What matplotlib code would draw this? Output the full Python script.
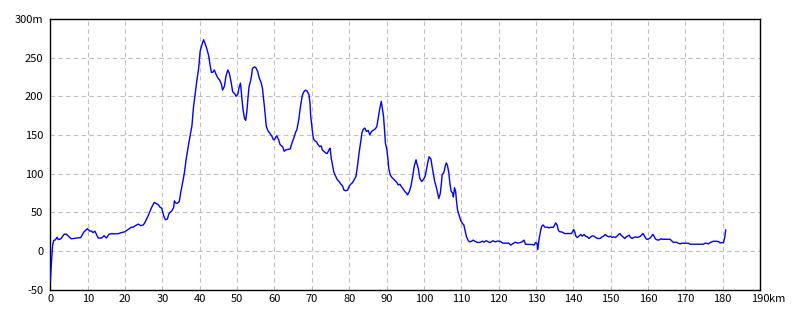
import matplotlib
matplotlib.use("Agg")
import matplotlib.pyplot as plt

# Distance along route (km) and elevation (m)
distance_km = [
    0.0, 0.15, 0.4, 0.6, 0.9, 1.3, 1.8, 2.1, 2.8, 3.7, 4.3, 4.9, 5.6, 7.0, 8.1,
    9.0, 9.9, 10.5, 11.0, 11.4, 11.9, 12.8, 13.7, 14.4, 15.0, 15.7, 16.3, 18.1,
    19.0, 19.9, 20.8, 21.7, 22.1, 22.8, 23.5, 24.2, 24.9,
    25.3, 26.2, 27.1, 27.8, 28.5, 28.9, 29.4, 29.8, 30.3, 30.8, 31.3, 31.8, 32.5,
    33.0, 33.2, 33.6, 34.0, 34.5, 34.9, 35.5, 35.9, 36.3, 36.8, 37.4, 37.9, 38.3,
    38.8, 39.2, 39.7, 40.1, 40.6, 41.0, 41.5, 41.9, 42.4, 42.8, 43.1, 43.5, 43.9,
    44.3, 44.8, 45.3, 45.8, 46.1, 46.6, 47.0, 47.5, 47.9, 48.4, 48.8, 49.4, 49.7,
    50.2, 50.5, 50.9, 51.3, 51.6, 52.0, 52.3, 52.6, 52.9, 53.2, 53.6, 53.9, 54.1,
    54.6, 55.0, 55.5, 55.9, 56.4, 56.8, 57.0, 57.3, 57.6, 57.8, 58.3, 58.8, 59.3,
    59.7, 60.0, 60.4, 60.6, 61.1, 61.5, 62.2, 62.6, 63.1, 64.2, 64.7, 65.1, 65.6,
    66.0, 66.5, 66.9, 67.4, 67.8, 68.3, 68.7, 69.2, 69.5, 69.7, 70.1, 70.4, 70.7,
    71.3, 71.6, 72.1, 72.5, 72.8, 73.2, 73.7, 74.1, 74.6, 74.9, 75.2, 75.6, 75.9,
    76.4, 76.8, 77.3, 77.7, 78.2, 78.6, 79.1, 79.6, 80.0, 80.4, 80.9, 81.3, 81.8,
    82.2, 82.7, 83.1, 83.4, 83.8, 84.2, 84.6, 85.1, 85.5, 86.0, 86.4, 87.0, 87.4,
    87.7, 88.0, 88.3, 88.6, 88.8, 89.2, 89.5, 89.7, 90.1, 90.4, 90.6, 91.0, 91.4,
    91.9, 92.3, 92.8, 93.1, 93.6, 94.0, 94.5, 94.9, 95.4, 95.6, 96.1, 96.5, 97.0,
    97.4, 97.9, 98.1, 98.5, 98.9, 99.4, 99.8, 100.3, 100.6, 101.0, 101.4, 101.9,
    102.2, 102.6, 102.9, 103.4, 103.7, 104.0, 104.4, 104.7, 104.9, 105.3, 105.8,
    106.0, 106.3, 106.7, 106.9, 107.3, 107.7, 107.9, 108.2, 108.5, 108.7, 109.0,
    109.4, 109.8, 110.3, 110.7, 111.1, 111.4, 111.9, 112.3, 112.8, 113.2, 113.6,
    114.3, 115.0, 115.7, 116.1, 116.7, 117.3, 117.7, 118.5, 119.1, 119.7, 120.5,
    121.1, 121.8, 122.7, 123.3, 123.9, 124.5, 125.1, 125.9, 126.3, 126.8, 127.2,
    128.1, 129.0, 129.5, 129.9, 130.3, 130.5, 130.8, 131.2, 131.5, 131.9, 132.4,
    133.1, 133.5, 134.0, 134.6, 135.0, 135.3, 135.7, 136.0, 136.4, 136.8, 137.3,
    137.7, 139.5, 139.8, 140.1, 140.4, 140.7, 141.1, 141.5, 142.0, 142.4, 142.9,
    143.3, 143.8, 144.2, 144.7, 145.1, 145.6, 146.0, 146.5, 147.2, 147.7, 148.1,
    148.6, 149.0, 149.5, 149.9, 150.4, 150.8, 151.3, 151.7, 152.2, 152.5, 152.8,
    153.3, 153.8, 154.2, 154.7, 155.0, 155.3, 155.8, 156.2, 156.7, 157.1, 157.6,
    158.0, 158.5, 158.7, 159.2, 159.6, 160.0, 160.5, 160.9, 161.3, 161.7, 162.0,
    162.5, 163.0, 163.5, 163.8, 164.3, 165.0, 165.9, 166.3, 166.8, 167.7, 168.1,
    168.7, 169.0, 169.9, 170.8, 171.3, 172.2, 173.0, 173.9, 174.8, 175.3, 175.7,
    176.2, 176.6, 177.1, 177.5, 178.4, 178.9, 179.3, 179.8, 180.2, 180.4, 180.6,
    180.8,
]
elevation_m = [
    -38, -24, -5, 8, 14, 14.5, 18, 15, 16, 22, 22, 19, 16, 17, 17.5,
    25, 29, 26, 26, 24, 26, 17, 17, 20, 17, 22, 22.5, 22.5,
    24, 25, 28, 31, 31, 33, 35, 33, 34,
    37, 46, 56.5, 63, 61, 60, 56.5, 55.7, 46, 40.6, 41.5, 49, 52,
    56.5, 65, 62, 62, 64, 76, 91, 102, 117, 132, 149, 162, 185.5,
    205, 220, 236, 258.6, 267, 273, 267, 261, 252, 239, 231, 231, 234,
    229, 224, 221, 215.6, 208, 213, 226, 234, 230, 218, 206, 203, 200,
    203, 211, 217, 196, 182, 171, 169, 180, 198, 213, 220, 228, 236,
    238, 237, 232, 224, 218, 210, 200, 187, 172, 161.5, 155, 152, 148.5,
    144, 144, 147.7, 149, 144, 137.7, 134.7, 129, 131, 132, 140, 145, 153,
    157, 170, 185, 200, 205.5, 208, 207, 202.5, 191.7, 174.4, 157, 146, 143,
    141, 138, 135, 136, 131, 129, 127, 126, 131, 133, 120, 109.7, 102,
    96.7, 92.4, 90, 87, 84.6, 79, 78, 79, 84, 86.4, 88.6, 92, 96.4,
    109, 128.7, 141.7, 152.5, 157.7, 159, 154.7, 156, 150.3, 154.7, 156, 158, 161,
    169.8, 178.4, 187, 193.5, 187, 174, 154.7, 139.5, 131, 118, 107, 98.5, 95.5,
    93, 90.8, 88.6, 85.6, 86.4, 83.4, 80, 77, 74.8, 72.6, 77, 83.4, 96.4,
    109.3, 118, 113.6, 107, 94.2, 90, 92, 96.4, 103, 113.6, 122, 118.8,
    109.3, 98.5, 90, 81.3, 74.8, 68, 74.8, 88, 99, 101, 111,
    114, 111, 101, 90.4, 77.4, 75, 70, 82, 77.4, 66.5, 53.5,
    47, 40.4, 36, 34, 25, 18.7, 13.5, 12, 13, 14.3, 13,
    11.3, 11.3, 13, 11.7, 13.5, 12, 11, 13.5, 12, 13, 12.6,
    10.4, 10.4, 10.4, 7.8, 10, 11.7, 10.4, 11.3, 12, 14.3, 9,
    8.7, 8.7, 7.8, 11, 10, 2, 14.3, 25, 31.7, 34, 31,
    31, 30, 31, 30.6, 33.6, 36.6, 33.6, 27, 25, 25, 24,
    22.8, 22.8, 25, 28, 25, 19.4, 17.7, 19.4, 21.6, 19.4, 21.6,
    19.4, 18.5, 16.4, 18.5, 19.8, 19.4, 17.7, 16.4, 16.4, 18.5, 19.4,
    21.6, 19.8, 18.5, 19.4, 17.7, 18.5, 17.7, 19.4, 22, 22.8, 20.7,
    18.5, 16.4, 18.5, 19.8, 20.7, 17.7, 16.4, 17.7, 18.5, 17.7, 18.5,
    19.4, 22, 22.8, 18.5, 15.5, 15.5, 16.7, 18.8, 21.8, 18.8, 15.8,
    14.5, 14.5, 16.2, 15.4, 15.4, 15.4, 15.4, 13.7, 11.5, 11.5, 10.3,
    9.4, 10.3, 10.3, 10.3, 9, 9, 9, 9, 9, 10.3, 10.3,
    9.4, 11.1, 12, 12.8, 12.8, 12.4, 10.7, 11.1, 11.1, 14.5, 18.8,
    27.4,
]

x_ticks = list(range(0, 200, 10))
x_tick_labels = [str(v) for v in x_ticks]
y_ticks = list(range(-50, 350, 50))
y_tick_labels = [str(v) for v in y_ticks[:-1]] + ["300m"]

plt.rcParams["font.family"] = ["Noto Sans CJK JP", "DejaVu Sans"]

fig = plt.figure(figsize=(8.0, 3.2), dpi=100)
ax = fig.add_axes([0.063, 0.094, 0.887, 0.847])

ax.plot(distance_km, elevation_m, color="#0000ff", lw=1.0, zorder=3)

ax.set_xlim(0, 190)
ax.set_ylim(-50, 300)
ax.set_xticks(x_ticks)
ax.set_xticklabels(x_tick_labels)
ax.set_yticks(y_ticks)
ax.set_yticklabels(y_tick_labels)
ax.tick_params(length=0, labelsize=8, colors="black")
ax.tick_params(axis="x", pad=3)
ax.tick_params(axis="y", pad=5)

ax.grid(True, color="#c0c0c0", linestyle=(0, (4, 3)), lw=0.8, zorder=0)
for sp in ax.spines.values():
    sp.set_color("black")
    sp.set_linewidth(1.0)

fig.canvas.draw()
lbl = ax.get_xticklabels()[-1]
bb = lbl.get_window_extent()
inv = fig.transFigure.inverted()
(x1, y0), (_, y1) = inv.transform([[bb.x1, bb.y0], [bb.x1, bb.y1]])
fig.text(x1, (y0 + y1) / 2, "km", fontsize=8, ha="left", va="center")

fig.savefig("out.png", dpi=100)
